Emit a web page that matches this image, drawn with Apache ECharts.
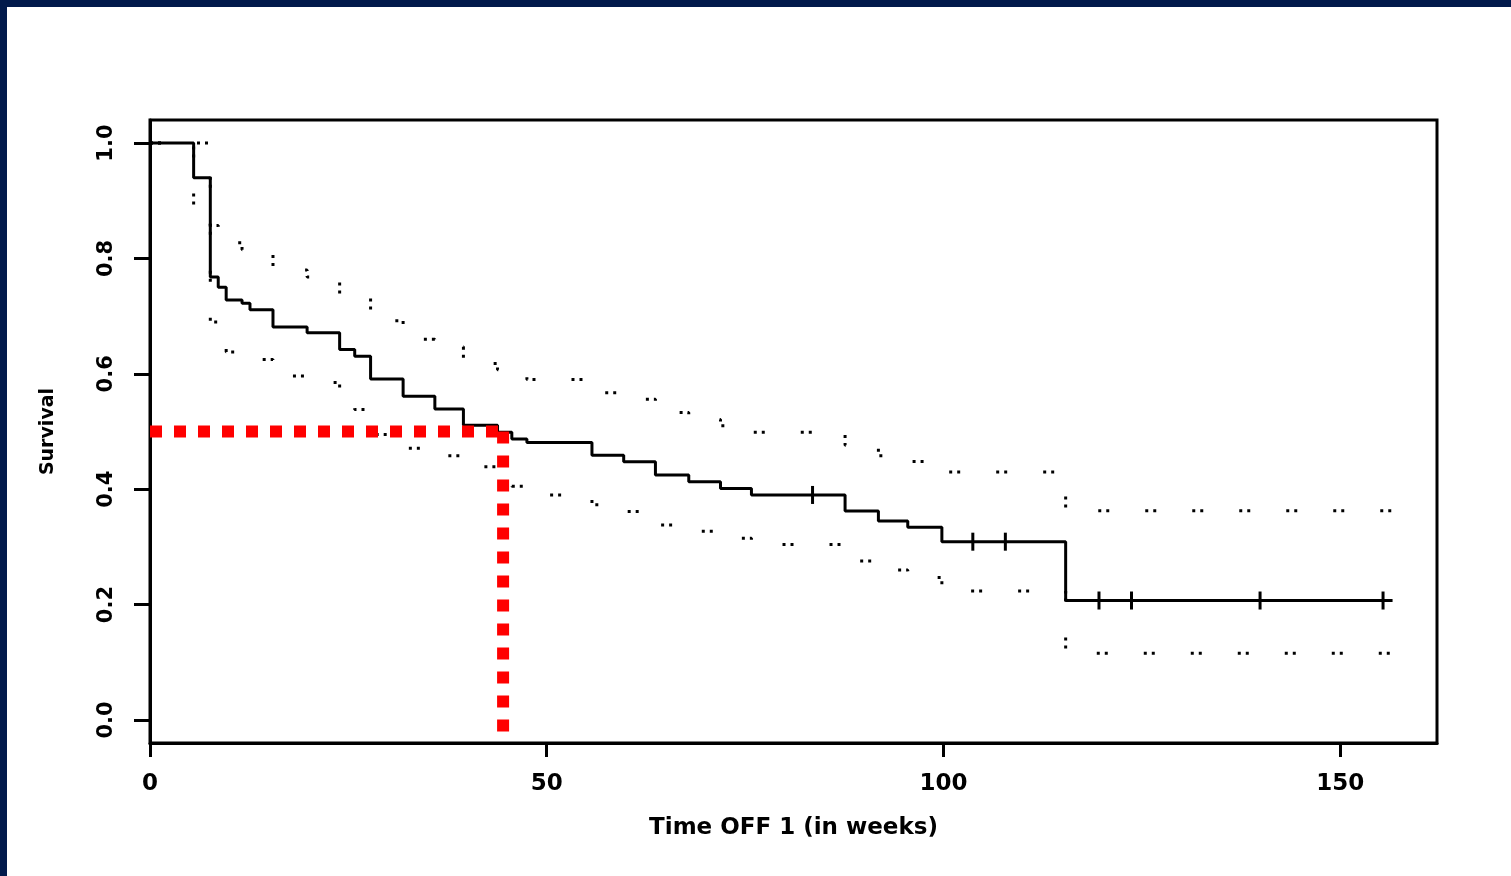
<!DOCTYPE html>
<html>
<head>
<meta charset="utf-8">
<title>Survival</title>
<script src="https://cdn.jsdelivr.net/npm/echarts@6/dist/echarts.min.js"></script>
<style>
    body { margin: 0; background: #ffffff; }
    #chart { position: absolute; left: 0; top: 0; width: 1511px; height: 876px; }
    .bar { position: absolute; background: #011a4b; z-index: 5; }
</style>
</head>
<body>
<div id="chart"></div>
<div class="bar" style="left:0;top:0;width:1511px;height:7px;"></div>
<div class="bar" style="left:0;top:0;width:7px;height:876px;"></div>
<script>
// Kaplan-Meier estimate (weeks -> survival)
const weeks = [0, 5.5, 7.6, 8.6, 9.6, 11.6, 12.6, 15.5, 19.8, 23.9, 25.8, 27.8, 31.9, 35.9, 39.5,
    43.8, 45.6, 47.5, 55.7, 59.7, 63.7, 67.9, 71.9, 75.8, 87.6, 91.8, 95.5, 99.8, 115.4, 156.6];
const survival = [1.0, 0.94, 0.768, 0.750, 0.728, 0.7225, 0.711, 0.681, 0.671, 0.642, 0.6305, 0.591, 0.561, 0.539, 0.511,
    0.4986, 0.487, 0.481, 0.459, 0.4476, 0.4245, 0.413, 0.401, 0.390, 0.362, 0.345, 0.334, 0.309, 0.207, 0.207];

// confidence band (upper and lower), same step times
const upperCI = [1.0, 1.0, 0.857, 0.839, 0.827, 0.815, 0.81, 0.78, 0.768, 0.739, 0.733, 0.692, 0.66, 0.647, 0.618,
    0.607, 0.598, 0.590, 0.567, 0.556, 0.533, 0.521, 0.510, 0.4986, 0.476, 0.458, 0.448, 0.430, 0.3625, 0.3625];
const lowerCI = [1.0, 0.87, 0.69, 0.671, 0.638, 0.634, 0.625, 0.596, 0.585, 0.55, 0.538, 0.495, 0.471, 0.458, 0.439,
    0.419, 0.405, 0.39, 0.373, 0.3615, 0.338, 0.327, 0.315, 0.304, 0.2757, 0.26, 0.247, 0.2236, 0.1155, 0.1155];

// censored observations
const censorWeeks = [83.5, 103.7, 107.8, 119.6, 123.7, 139.9, 155.4];
const censorSurv = [0.390, 0.309, 0.309, 0.207, 0.207, 0.207, 0.207];

// median survival guide (red)
const medianWeeks = [0, 44.5];
const medianSurv = [0.5, -0.021];

// ticks
const xTicks = [0, 50, 100, 150];
const yTicks = [0, 0.2, 0.4, 0.6, 0.8, 1.0];

const font = { fontFamily: 'DejaVu Sans', fontWeight: 'bold', color: '#000' };

function pairs(xs, ys) {
    return xs.map((x, i) => [x, ys[i]]);
}

const chart = echarts.init(document.getElementById('chart'));

const options = {
    animation: false,
    backgroundColor: '#ffffff',
    grid: {
        left: 150, right: 74, top: 120, bottom: 133,
        show: true, borderColor: '#000', borderWidth: 3,
        outerBoundsMode: 'none'
    },
    xAxis: {
        type: 'value',
        min: 0,
        max: 162.2,
        name: 'Time OFF 1 (in weeks)',
        nameLocation: 'middle',
        nameGap: 74,
        nameTextStyle: { ...font, fontSize: 23 },
        axisLine: { show: true, onZero: false, lineStyle: { color: '#000', width: 3 } },
        axisTick: { show: true, length: 14, customValues: xTicks, lineStyle: { color: '#000', width: 3 } },
        axisLabel: { customValues: xTicks, margin: 30, ...font, fontSize: 23 },
        splitLine: { show: false }
    },
    yAxis: {
        type: 'value',
        min: -0.04,
        max: 1.04,
        name: 'Survival',
        nameLocation: 'middle',
        nameGap: 92,
        nameTextStyle: { ...font, fontSize: 19 },
        axisLine: { show: true, onZero: false, lineStyle: { color: '#000', width: 3 } },
        axisTick: { show: true, length: 16, customValues: yTicks, lineStyle: { color: '#000', width: 3 } },
        axisLabel: {
            customValues: yTicks, rotate: 90, margin: 33, ...font, fontSize: 21,
            formatter: v => v.toFixed(1)
        },
        splitLine: { show: false }
    },
    series: [
        {
            name: 'upper',
            type: 'line',
            step: 'end',
            symbol: 'none',
            data: pairs(weeks, upperCI),
            lineStyle: { color: '#000', width: 3, type: [3, 5, 3, 36] }
        },
        {
            name: 'lower',
            type: 'line',
            step: 'end',
            symbol: 'none',
            data: pairs(weeks, lowerCI),
            lineStyle: { color: '#000', width: 3, type: [3, 5, 3, 36] }
        },
        {
            name: 'KM',
            type: 'line',
            step: 'end',
            symbol: 'none',
            data: pairs(weeks, survival),
            lineStyle: { color: '#000', width: 3 }
        },
        {
            name: 'censored',
            type: 'scatter',
            symbol: 'rect',
            symbolSize: [3, 18],
            data: pairs(censorWeeks, censorSurv),
            itemStyle: { color: '#000', opacity: 1 }
        },
        {
            name: 'median h',
            type: 'line',
            symbol: 'none',
            data: [[medianWeeks[0], medianSurv[0]], [medianWeeks[1], medianSurv[0]]],
            lineStyle: { color: '#ff0000', width: 12, type: [12, 12] },
            z: 5
        },
        {
            name: 'median v',
            type: 'line',
            symbol: 'none',
            data: [[medianWeeks[1], medianSurv[0]], [medianWeeks[1], medianSurv[1]]],
            lineStyle: { color: '#ff0000', width: 12, type: [12, 12] },
            z: 5
        }
    ]
};

chart.setOption(options);
</script>
</body>
</html>
